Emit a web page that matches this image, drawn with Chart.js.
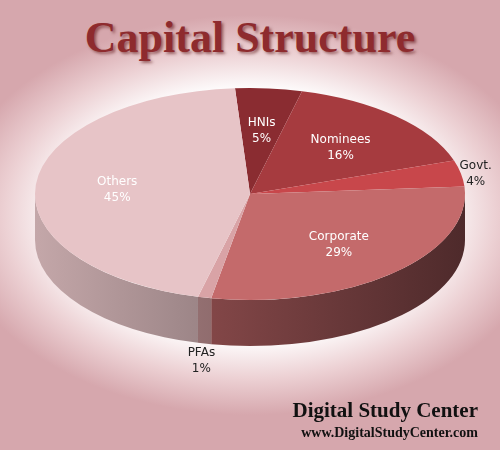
<!DOCTYPE html>
<html><head><meta charset="utf-8">
<script src="https://cdn.jsdelivr.net/npm/chart.js@4"></script>
<style>
body{margin:0;width:500px;height:450px;overflow:hidden;
background:radial-gradient(ellipse 300px 200px at 250px 215px,#fff 0%,#fff 62%,#ecd0d3 82%,#d6a7ad 100%);position:relative;font-family:"Liberation Serif",serif}
#t{position:absolute;top:12px;width:100%;text-align:center;font:bold 44px "Liberation Serif",serif;color:#8e2b2e;text-shadow:2px 2px 3px rgba(80,0,0,.5)}
#f1{position:absolute;right:22px;top:398px;font:bold 21px "Liberation Serif",serif;color:#111}
#f2{position:absolute;right:22px;top:425px;font:bold 14px "Liberation Serif",serif;color:#111}
canvas{position:absolute;left:0;top:0}
</style></head><body>
<div id="t">Capital Structure</div>
<canvas id="c" width="500" height="450"></canvas>
<div id="f1">Digital Study Center</div>
<div id="f2">www.DigitalStudyCenter.com</div>
<script>
const labels = ['HNIs', 'Nominees', 'Govt.', 'Corporate', 'PFAs', 'Others'];
const values = [5, 16, 4, 29, 1, 45];
const colors = ['#8a2c31', '#a63b3f', '#c8474b', '#c46a6b', '#d9a3a6', '#e7c4c7'];
const outside = [false, false, true, false, true, false];

const CX = 250, CY = 194, RY = 106, DEPTH = 46;

function shade(hex, f) {
  const n = parseInt(hex.slice(1), 16);
  const r = Math.round(((n >> 16) & 255) * f), g = Math.round(((n >> 8) & 255) * f), b = Math.round((n & 255) * f);
  return `rgb(${r},${g},${b})`;
}

const pie3d = {
  id: 'pie3d',
  beforeDatasetsDraw(chart) {
    const ctx = chart.ctx;
    const arcs = chart.getDatasetMeta(0).data;
    const R = arcs[0].outerRadius;
    arcs.forEach((a, i) => {
      const a1 = Math.max(a.startAngle, 0), a2 = Math.min(a.endAngle, Math.PI);
      if (a2 <= a1) return;
      const g = ctx.createLinearGradient(CX - R, 0, CX + R, 0);
      g.addColorStop(0, shade(colors[i], 0.85));
      g.addColorStop(1, shade(colors[i], 0.4));
      ctx.save();
      ctx.beginPath();
      ctx.ellipse(CX, CY + DEPTH, R, RY, 0, a1, a2);
      ctx.ellipse(CX, CY, R, RY, 0, a2, a1, true);
      ctx.closePath();
      ctx.fillStyle = g;
      ctx.fill();
      ctx.restore();
    });
    const a = arcs[0];
    ctx.save();
    ctx.translate(CX, CY);
    ctx.scale(1, RY / R);
    ctx.translate(-a.x, -a.y);
  },
  afterDatasetsDraw(chart) {
    const ctx = chart.ctx;
    ctx.restore();
    const arcs = chart.getDatasetMeta(0).data;
    const R = arcs[0].outerRadius;
    ctx.save();
    ctx.textAlign = 'center';
    ctx.font = '12px "DejaVu Sans"';
    arcs.forEach((a, i) => {
      const mid = (a.startAngle + a.endAngle) / 2;
      const k = outside[i] ? 1.07 : 0.62;
      let x = CX + Math.cos(mid) * R * k;
      let y = CY + Math.sin(mid) * RY * k;
      if (outside[i] && Math.sin(mid) > 0) y += DEPTH + 8;
      ctx.fillStyle = outside[i] ? '#222' : '#fff';
      ctx.fillText(labels[i], x, y - 3);
      ctx.fillText(values[i] + '%', x, y + 13);
    });
    ctx.restore();
  }
};

new Chart(document.getElementById('c'), {
  type: 'pie',
  data: { labels, datasets: [{ data: values, backgroundColor: colors, borderWidth: 0 }] },
  options: {
    responsive: false,
    animation: false,
    rotation: -4,
    layout: { padding: { left: 35, right: 35, top: 10, bottom: 10 } },
    plugins: { legend: { display: false }, tooltip: { enabled: false } }
  },
  plugins: [pie3d]
});
</script>
</body></html>
